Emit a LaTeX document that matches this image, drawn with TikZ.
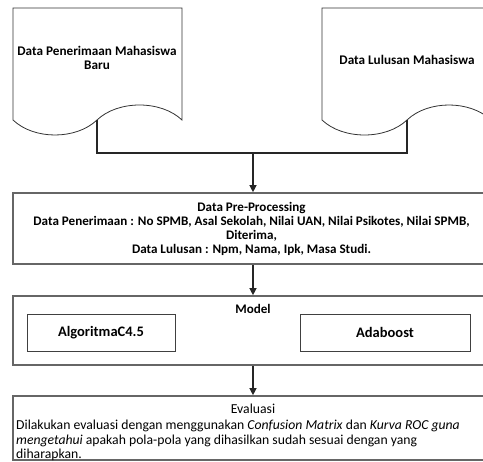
\documentclass[tikz,border=0pt]{standalone}
\usepackage{fontspec}
\setmainfont{Carlito}
\usetikzlibrary{arrows.meta}
\begin{document}
\begin{tikzpicture}[x=1pt,y=-1pt,
  docline/.style={draw=black!80, line width=0.8pt},
  box/.style={draw=black!60, line width=1.6pt, inner sep=0pt},
  innerbox/.style={draw=black!75, line width=0.9pt, inner sep=0pt},
  link/.style={draw=black!85, line width=1.2pt},
  arr/.style={link, -{Triangle[length=7pt,width=7pt]}},
  doclbl/.style={font=\fontsize{13.2}{14}\selectfont\bfseries, inner sep=0pt},
  lbl/.style={font=\fontsize{13.1}{14}\selectfont\bfseries, inner sep=0pt},
  biglbl/.style={font=\fontsize{14.5}{16}\selectfont\bfseries, inner sep=0pt},
  txt/.style={font=\fontsize{13.7}{14.6}\selectfont, inner sep=0pt}]
\useasboundingbox (0,0) rectangle (483,462);
\clip (0,0) rectangle (483,462);

% source documents
\draw[docline] (97,120) coordinate (srcA)
  .. controls (76,140) and (34,140) .. (13,120) -- (13,8) -- (182,8) -- (182,120)
  .. controls (161,100) and (118,100) .. (97,120) -- cycle;
\node[doclbl, align=center] (docA) at (97,58) {Data Penerimaan Mahasiswa\\Baru};

\draw[docline] (407,120) coordinate (srcB)
  .. controls (386,140) and (343,140) .. (322,120) -- (322,8) -- (491,8) -- (491,120)
  .. controls (470,100) and (428,100) .. (407,120) -- cycle;
\node[doclbl] (docB) at (407,60) {Data Lulusan Mahasiswa};

% merge of both sources
\coordinate (join) at (253,153);
\draw[link] (srcA) |- (join) -| (srcB);

% pre-processing
\node[box, lbl, align=center, minimum width=477pt, minimum height=71pt] (pre) at (251.5,228.5)
  {Data Pre-Processing\\
   Data Penerimaan : No SPMB, Asal Sekolah, Nilai UAN, Nilai Psikotes, Nilai SPMB,\\
   Diterima,\\
   Data Lulusan : Npm, Nama, Ipk, Masa Studi.};
\draw[arr] (join) -- (pre.north -| join);

% model
\node[box, minimum width=477pt, minimum height=69pt] (model) at (251.5,330.5) {};
\node[lbl] (modeltitle) at (253,309) {Model};
\node[innerbox, biglbl, minimum width=148pt, minimum height=37pt] (algo) at (101,332.5) {AlgoritmaC4.5};
\node[innerbox, biglbl, minimum width=170pt, minimum height=37pt] (ada) at (385,332.5) {Adaboost};
\draw[arr] (pre.south -| join) -- (model.north -| join);

% evaluation (last line runs onto the bottom border)
\node[box, minimum width=477pt, minimum height=64pt] (eval) at (251.5,428) {};
\node[txt] (evaltitle) at (253,409) {Evaluasi};
\node[txt, align=left, anchor=north west] (evalbody) at (16,420)
  {Dilakukan evaluasi dengan menggunakan \textit{Confusion Matrix} dan \textit{Kurva ROC guna}\\
   \textit{mengetahui} apakah pola-pola yang dihasilkan sudah sesuai dengan yang\\
   diharapkan.};
\draw[arr] (model.south -| join) -- (eval.north -| join);
\end{tikzpicture}
\end{document}
